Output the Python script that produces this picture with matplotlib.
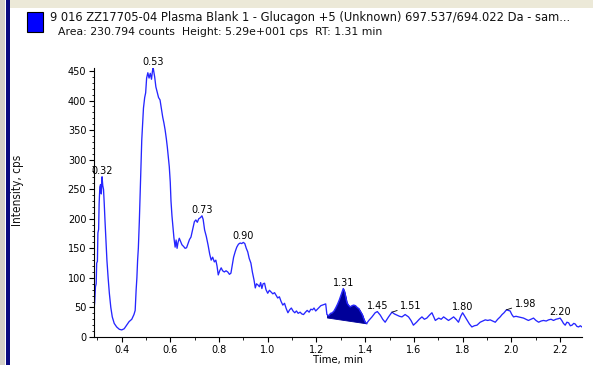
import matplotlib
matplotlib.use("Agg")
import matplotlib.pyplot as plt
import numpy as np
from matplotlib.patches import Rectangle
from matplotlib.ticker import MultipleLocator

# XIC trace: retention time (min) vs intensity (cps)
time_min = [
    0.287, 0.290, 0.293, 0.296, 0.298, 0.301, 0.303, 0.306, 0.308, 0.311,
    0.314, 0.317, 0.320, 0.323, 0.326, 0.329, 0.332, 0.336, 0.340, 0.345,
    0.350, 0.356, 0.362, 0.370, 0.380, 0.391, 0.401, 0.411, 0.421, 0.431,
    0.442, 0.451, 0.456, 0.460, 0.463, 0.466, 0.469, 0.473, 0.476, 0.480,
    0.483, 0.487, 0.490, 0.495, 0.499, 0.503, 0.508, 0.513, 0.518, 0.523,
    0.527, 0.530, 0.536, 0.541, 0.547, 0.552, 0.558, 0.564, 0.569, 0.574,
    0.579, 0.584, 0.588, 0.592, 0.596, 0.600, 0.603, 0.607, 0.611, 0.615,
    0.620, 0.624, 0.628, 0.632, 0.637, 0.642, 0.648, 0.655, 0.661, 0.667,
    0.673, 0.679, 0.685, 0.692, 0.699, 0.705, 0.711, 0.717, 0.724, 0.730,
    0.735, 0.741, 0.748, 0.755, 0.762, 0.768, 0.774, 0.781, 0.787, 0.792,
    0.797, 0.803, 0.809, 0.815, 0.822, 0.829, 0.836, 0.843, 0.849, 0.854,
    0.860, 0.867, 0.873, 0.880, 0.887, 0.893, 0.900, 0.906, 0.912, 0.918,
    0.924, 0.931, 0.937, 0.944, 0.949, 0.954, 0.960, 0.966, 0.971, 0.976,
    0.981, 0.987, 0.993, 1.000, 1.007, 1.014, 1.021, 1.028, 1.034, 1.041,
    1.048, 1.055, 1.062, 1.069, 1.076, 1.083, 1.090, 1.097, 1.104, 1.111,
    1.118, 1.125, 1.133, 1.140, 1.147, 1.155, 1.162, 1.170, 1.177, 1.184,
    1.190, 1.197, 1.204, 1.211, 1.218, 1.225, 1.232, 1.238, 1.243, 1.250,
    1.258, 1.265, 1.272, 1.280, 1.287, 1.294, 1.300, 1.305, 1.310, 1.315,
    1.320, 1.325, 1.331, 1.338, 1.346, 1.353, 1.360, 1.367, 1.374, 1.381,
    1.388, 1.394, 1.400, 1.406, 1.415, 1.428, 1.441, 1.450, 1.462, 1.472,
    1.482, 1.496, 1.503, 1.510, 1.520, 1.530, 1.541, 1.551, 1.564, 1.578,
    1.588, 1.598, 1.611, 1.622, 1.633, 1.643, 1.653, 1.664, 1.674, 1.688,
    1.702, 1.712, 1.722, 1.732, 1.742, 1.753, 1.763, 1.773, 1.783, 1.792,
    1.800, 1.809, 1.818, 1.828, 1.838, 1.848, 1.859, 1.872, 1.882, 1.893,
    1.903, 1.913, 1.923, 1.934, 1.944, 1.954, 1.962, 1.970, 1.980, 1.988,
    1.995, 2.002, 2.009, 2.019, 2.029, 2.040, 2.050, 2.060, 2.070, 2.080,
    2.091, 2.101, 2.112, 2.122, 2.132, 2.143, 2.153, 2.163, 2.173, 2.183,
    2.193, 2.200, 2.207, 2.214, 2.221, 2.228, 2.235, 2.242, 2.249, 2.256,
    2.262, 2.269, 2.276, 2.283, 2.290,
]
intensity_cps = [
    47, 60, 85, 90, 125, 128, 176, 182, 225, 254,
    258, 242, 271, 256, 250, 226, 198, 165, 130, 100,
    74, 50, 34, 23, 17, 13, 12, 14, 20, 26,
    30, 38, 45, 80, 100, 130, 150, 195, 235, 285,
    333, 365, 387, 405, 413, 438, 447, 438, 446, 436,
    450, 455, 440, 423, 413, 405, 401, 385, 372, 362,
    350, 335, 321, 305, 288, 262, 230, 205, 186, 168,
    152, 164, 150, 160, 167, 162, 156, 153, 150, 151,
    158, 165, 169, 182, 195, 198, 194, 200, 202, 205,
    199, 181, 170, 156, 140, 130, 135, 127, 130, 120,
    105, 112, 117, 112, 110, 112, 110, 106, 108, 120,
    135, 145, 152, 157, 159, 158, 160, 158, 150, 144,
    133, 125, 110, 96, 83, 90, 88, 85, 92, 82,
    90, 91, 80, 74, 79, 76, 73, 75, 71, 66,
    68, 60, 54, 57, 48, 41, 46, 49, 44, 41,
    44, 40, 42, 39, 38, 42, 45, 42, 47, 46,
    49, 44, 47, 50, 53, 54, 55, 56, 38, 36,
    40, 41, 44, 50, 56, 63, 70, 76, 82, 77,
    68, 58, 54, 51, 53, 54, 53, 50, 48, 43,
    38, 31, 25, 23, 28, 34, 41, 43, 37, 30,
    25, 34, 38, 42, 39, 37, 35, 34, 38, 34,
    28, 20, 25, 30, 34, 30, 32, 37, 41, 28,
    32, 30, 34, 31, 28, 31, 34, 30, 25, 35,
    41, 35, 29, 22, 17, 19, 20, 25, 27, 29,
    28, 29, 27, 25, 30, 34, 38, 41, 46, 45,
    44, 38, 34, 35, 34, 33, 32, 30, 28, 30,
    32, 28, 25, 27, 28, 27, 29, 30, 28, 30,
    31, 32, 28, 23, 20, 25, 24, 19, 20, 23,
    22, 18, 17, 19, 17,
]

# apex labels; two of them get a short leader line
peak_times = [0.32, 0.53, 0.73, 0.90, 1.31, 1.45, 1.51, 1.80, 1.98, 2.20]
leader_peaks = [1.51, 1.98]

# integrated peak window and its drop baseline
window_start, window_end = 1.243, 1.406
baseline_start, baseline_end = 33, 23

title_line1 = "9 016 ZZ17705-04 Plasma Blank 1 - Glucagon +5 (Unknown) 697.537/694.022 Da - sam..."
title_line2 = "Area: 230.794 counts  Height: 5.29e+001 cps  RT: 1.31 min"

W, H = 593, 365
fig = plt.figure(figsize=(W / 100, H / 100), dpi=100)
fig.patch.set_facecolor("white")

# window chrome
fig.patches.append(Rectangle((0, 0), 5 / W, 1, transform=fig.transFigure,
                             facecolor="#D4D0C8", edgecolor="none"))
fig.patches.append(Rectangle((6 / W, 0), 4 / W, 1, transform=fig.transFigure,
                             facecolor="#0A0A80", edgecolor="none"))
fig.patches.append(Rectangle((10 / W, 1 - 8 / H), 1, 8 / H, transform=fig.transFigure,
                             facecolor="#ECE9D8", edgecolor="none"))

# legend swatch + header
fig.patches.append(Rectangle((27 / W, 1 - 32 / H), 16 / W, 20 / H, transform=fig.transFigure,
                             facecolor="#0000FF", edgecolor="black", linewidth=0.8))
fig.text(50 / W, 1 - 18 / H, title_line1, fontsize=8.3, va="center", ha="left", color="#111111")
fig.text(58 / W, 1 - 32 / H, title_line2, fontsize=7.8, va="center", ha="left", color="#111111")

ax = fig.add_axes([94 / W, 28 / H, 488 / W, 269 / H])
t = np.asarray(time_min)
y = np.asarray(intensity_cps, dtype=float)

ax.plot(t, y, color="#2626FF", linewidth=0.95)

mask = (t >= window_start) & (t <= window_end)
base = np.interp(t[mask], [window_start, window_end], [baseline_start, baseline_end])
ax.fill_between(t[mask], base, y[mask], color="#000099", linewidth=0.6, edgecolor="#000099")

for pt in peak_times:
    pv = np.interp(pt, t, y)
    label = f"{pt:.2f}"
    if pt in leader_peaks:
        ax.annotate(label, xy=(pt, pv), xytext=(8, 1), textcoords="offset pixels",
                    ha="left", va="bottom", fontsize=7,
                    arrowprops=dict(arrowstyle="-", color="black", lw=0.6,
                                    shrinkA=0, shrinkB=0))
    else:
        ax.annotate(label, xy=(pt, pv), xytext=(0, 1), textcoords="offset pixels",
                    ha="center", va="bottom", fontsize=7)

ax.set_xlim(0.287, 2.29)
ax.set_ylim(0, 455)
ax.xaxis.set_major_locator(MultipleLocator(0.2))
ax.xaxis.set_minor_locator(MultipleLocator(0.1))
ax.yaxis.set_major_locator(MultipleLocator(50))
ax.yaxis.set_minor_locator(MultipleLocator(10))
ax.xaxis.set_major_formatter(plt.FuncFormatter(lambda v, _: f"{v:.1f}"))
ax.tick_params(which="major", length=3.5, width=0.8, labelsize=7, pad=2)
ax.tick_params(which="minor", length=1.8, width=0.6)
for side in ("top", "right"):
    ax.spines[side].set_visible(False)
for side in ("left", "bottom"):
    ax.spines[side].set_linewidth(0.8)

ax.set_xlabel("Time, min", fontsize=7.3, labelpad=0)
fig.text(18 / W, 1 - 190 / H, "Intensity, cps", rotation=90, va="center", ha="center",
         fontsize=8.5, fontstretch="condensed", color="#111111")

fig.savefig("out.png", dpi=100)
